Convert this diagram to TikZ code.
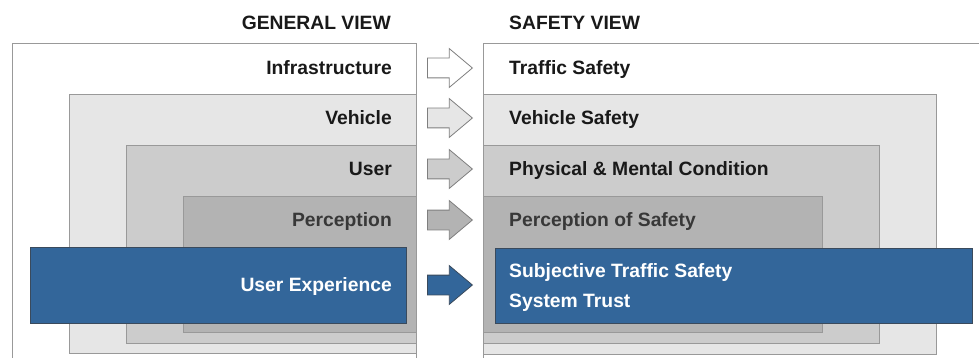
\documentclass[tikz,border=0pt]{standalone}
\usepackage{fontspec}
\setmainfont{Liberation Sans}
\usetikzlibrary{shapes.arrows}

\definecolor{boxline}{HTML}{999999}
\definecolor{lvltwo}{HTML}{E6E6E6}
\definecolor{lvlthree}{HTML}{CCCCCC}
\definecolor{lvlfour}{HTML}{B3B3B3}
\definecolor{uxblue}{HTML}{33669A}
\definecolor{uxline}{HTML}{3A4A5C}
\definecolor{arrline}{HTML}{7F7F7F}

\tikzset{
  lbl/.style={font=\fontsize{19.3}{23}\selectfont\bfseries, inner sep=0pt, text=black!90},
  layer/.style={draw=boxline, line width=0.8pt},
  blockarr/.style={single arrow, draw=arrline, line width=0.8pt, inner sep=0pt, inner ysep=9.5pt,
                   minimum height=45pt, single arrow head extend=9.5pt, single arrow tip angle=80,
                   anchor=west}
}

\begin{document}
\begin{tikzpicture}[x=1pt,y=-1pt]
\useasboundingbox (0,0) rectangle (979,358);
\clip (0,0) rectangle (979,358);

% nested layers, general view
\draw[layer, fill=white]     (12,43)  rectangle (416,370);
\draw[layer, fill=lvltwo]    (69,94)  rectangle (416,353);
\draw[layer, fill=lvlthree]  (126,145) rectangle (416,343);
\draw[layer, fill=lvlfour]   (183,196) rectangle (416,332);
\draw[draw=uxline, line width=0.8pt, fill=uxblue] (30,247) rectangle (406,323);

% nested layers, safety view
\draw[layer, fill=white]     (483,43)  rectangle (990,370);
\draw[layer, fill=lvltwo]    (483,94)  rectangle (936,354);
\draw[layer, fill=lvlthree]  (483,145) rectangle (879,343);
\draw[layer, fill=lvlfour]   (483,196) rectangle (822,332);
\draw[draw=uxline, line width=0.8pt, fill=uxblue] (495,248) rectangle (972,323);

% headers
\node[lbl, anchor=base east] (genhead) at (391,30) {GENERAL VIEW};
\node[lbl, anchor=base west] (safehead) at (509,30) {SAFETY VIEW};

% general view labels
\node[lbl, anchor=base east] (infra) at (392,74.5)  {Infrastructure};
\node[lbl, anchor=base east] (veh)   at (392,124.5) {Vehicle};
\node[lbl, anchor=base east] (usr)   at (392,175.5) {User};
\node[lbl, anchor=base east, text=black!78] (perc) at (392,226.5) {Perception};
\node[lbl, anchor=base east, text=white] (ux) at (392,291.5) {User Experience};

% safety view labels
\node[lbl, anchor=base west] (traffic) at (509,74.5)  {Traffic Safety};
\node[lbl, anchor=base west] (vehsafe) at (509,124.5) {Vehicle Safety};
\node[lbl, anchor=base west] (cond)    at (509,175.5) {Physical \& Mental Condition};
\node[lbl, anchor=base west, text=black!78] (percsafe) at (509,226.5) {Perception of Safety};
\node[lbl, anchor=west, text=white, align=left, font=\fontsize{19.3}{30}\selectfont\bfseries] (subj) at (509,288)
  {Subjective Traffic Safety\\System Trust};

% mapping arrows
\node[blockarr, fill=white]    (a1) at (427,68)  {};
\node[blockarr, fill=lvltwo]   (a2) at (427,118) {};
\node[blockarr, fill=lvlthree] (a3) at (427,169) {};
\node[blockarr, fill=lvlfour]  (a4) at (427,220) {};
\node[blockarr, fill=uxblue, draw=uxline] (a5) at (427,285) {};
\end{tikzpicture}
\end{document}
